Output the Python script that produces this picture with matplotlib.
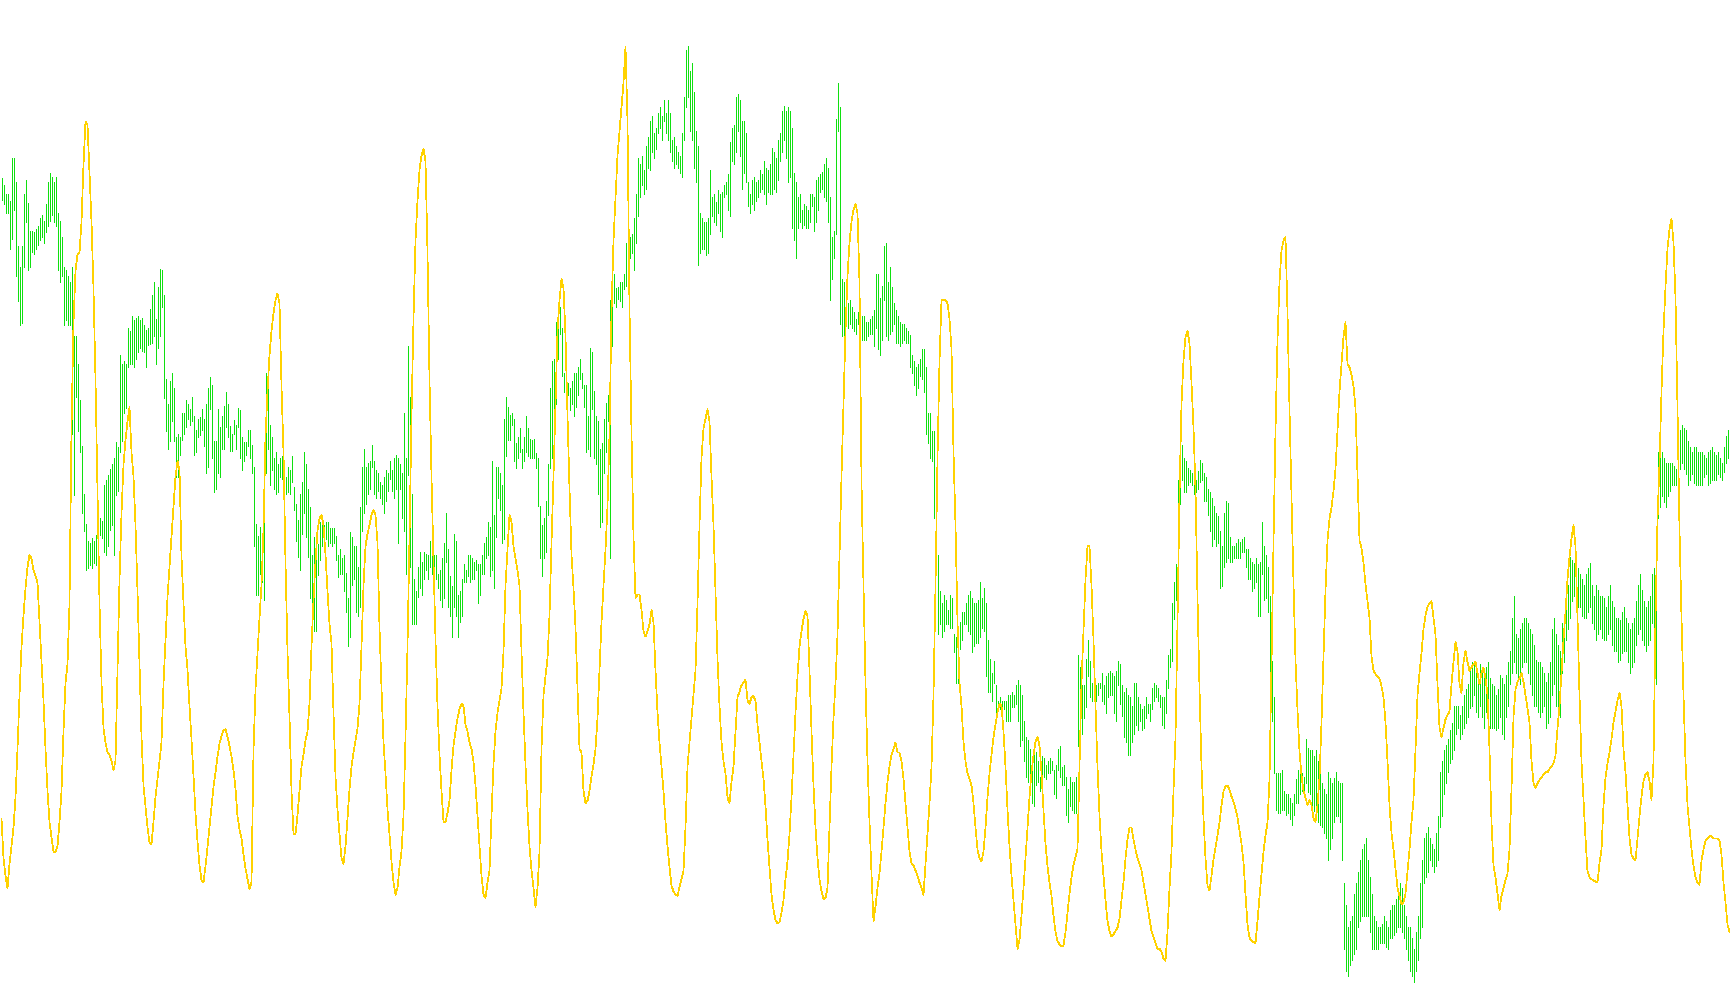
import numpy as np
import matplotlib
matplotlib.use("Agg")
import matplotlib.pyplot as plt

# Price bars (screen level, 0 = top): upper and lower end of each bar
bar_top = [
    161, 168, 176, 176, 182, 143, 143, 165, 223, 242,
    223, 176, 163, 184, 209, 209, 210, 208, 205, 198,
    195, 200, 185, 165, 157, 160, 165, 160, 193, 200,
    215, 242, 245, 250, 256, 242, 305, 305, 330, 363,
    404, 448, 475, 490, 492, 488, 490, 485, 478, 470,
    472, 440, 435, 431, 425, 421, 415, 401, 405, 322,
    330, 327, 330, 297, 300, 286, 290, 288, 286, 290,
    288, 295, 299, 297, 280, 267, 256, 289, 260, 244,
    245, 267, 344, 366, 345, 338, 352, 396, 393, 396,
    374, 374, 363, 366, 371, 360, 377, 390, 380, 378,
    371, 380, 366, 352, 342, 349, 400, 400, 371, 387,
    377, 368, 355, 366, 386, 393, 381, 385, 370, 372,
    396, 401, 401, 390, 390, 403, 423, 475, 486, 478,
    486, 459, 338, 335, 385, 396, 415, 410, 421, 415,
    413, 427, 432, 423, 426, 413, 441, 457, 471, 448,
    437, 410, 421, 443, 460, 503, 487, 490, 493, 473,
    476, 476, 473, 473, 479, 479, 479, 486, 503, 498,
    506, 503, 519, 542, 482, 487, 495, 495, 514, 460,
    423, 407, 423, 420, 418, 403, 418, 426, 429, 437,
    440, 432, 426, 429, 418, 426, 415, 412, 415, 421,
    429, 374, 415, 314, 360, 448, 525, 536, 514, 500,
    509, 500, 502, 503, 490, 498, 503, 503, 520, 517,
    506, 492, 465, 498, 522, 531, 484, 490, 539, 536,
    525, 511, 517, 503, 503, 506, 509, 508, 511, 511,
    503, 492, 487, 473, 478, 418, 467, 423, 423, 429,
    440, 380, 360, 369, 376, 374, 380, 402, 396, 388,
    407, 396, 377, 388, 398, 399, 398, 411, 415, 459,
    476, 470, 454, 421, 352, 327, 325, 292, 294, 278,
    297, 338, 344, 347, 352, 345, 338, 338, 333, 325,
    338, 349, 349, 377, 315, 319, 354, 377, 382, 407,
    402, 380, 365, 358, 272, 248, 248, 261, 260, 256,
    256, 248, 220, 212, 215, 212, 198, 176, 143, 149,
    141, 154, 132, 124, 110, 105, 121, 116, 102, 97,
    105, 91, 102, 91, 102, 127, 124, 132, 138, 141,
    121, 88, 45, 42, 64, 57, 83, 119, 132, 193,
    198, 201, 201, 198, 154, 179, 176, 183, 172, 176,
    174, 168, 165, 158, 129, 116, 113, 88, 85, 91,
    110, 110, 121, 165, 176, 163, 160, 165, 163, 154,
    158, 146, 152, 154, 149, 134, 138, 143, 127, 121,
    101, 96, 101, 97, 101, 116, 157, 165, 179, 176,
    190, 185, 187, 190, 176, 176, 179, 163, 160, 158,
    156, 149, 143, 152, 179, 215, 209, 108, 75, 97,
    253, 256, 272, 275, 272, 278, 283, 289, 283, 286,
    286, 286, 292, 292, 289, 286, 281, 248, 248, 270,
    259, 223, 220, 256, 242, 260, 275, 281, 286, 292,
    294, 294, 297, 300, 304, 322, 327, 333, 330, 325,
    316, 316, 333, 374, 374, 391, 391, 459, 503, 536,
    547, 539, 544, 553, 539, 542, 575, 577, 588, 564,
    555, 555, 547, 539, 536, 542, 547, 547, 544, 528,
    542, 533, 547, 580, 597, 610, 599, 621, 635, 632,
    635, 635, 635, 630, 630, 627, 630, 621, 616, 621,
    630, 654, 668, 671, 679, 695, 682, 682, 690, 704,
    685, 687, 693, 690, 687, 690, 698, 693, 679, 676,
    695, 693, 704, 715, 704, 709, 709, 704, 594, 605,
    621, 621, 597, 580, 599, 619, 619, 621, 619, 619,
    610, 621, 613, 610, 608, 610, 613, 608, 599, 602,
    621, 627, 624, 630, 632, 640, 619, 619, 632, 638,
    643, 640, 632, 638, 638, 624, 619, 621, 624, 630,
    632, 632, 616, 594, 588, 547, 528, 511, 435, 435,
    403, 415, 418, 424, 426, 429, 438, 435, 427, 417,
    420, 429, 432, 443, 446, 451, 459, 465, 468, 481,
    495, 465, 454, 456, 487, 495, 495, 492, 489, 491,
    489, 487, 498, 498, 506, 509, 511, 506, 511, 509,
    473, 495, 503, 514, 540, 599, 632, 701, 701, 701,
    698, 717, 720, 720, 723, 728, 720, 706, 698, 690,
    701, 704, 670, 678, 680, 680, 685, 680, 690, 700,
    710, 715, 720, 700, 705, 710, 705, 700, 708, 710,
    710, 800, 820, 840, 835, 830, 810, 800, 790, 780,
    770, 765, 760, 780, 795, 810, 830, 835, 840, 840,
    838, 830, 835, 840, 825, 820, 820, 815, 810, 800,
    805, 820, 830, 840, 840, 850, 860, 845, 830, 800,
    780, 760, 755, 750, 760, 765, 770, 755, 740, 700,
    690, 680, 675, 670, 662, 655, 640, 640, 640, 648,
    640, 630, 625, 620, 605, 600, 600, 605, 610, 602,
    605, 610, 605, 600, 615, 620, 622, 630, 625, 612,
    615, 620, 612, 600, 590, 560, 540, 575, 578, 570,
    565, 560, 560, 565, 570, 575, 585, 598, 600, 600,
    605, 610, 618, 610, 600, 570, 560, 575, 585, 590,
    565, 560, 550, 530, 505, 508, 510, 510, 515, 520,
    525, 530, 520, 515, 510, 530, 540, 530, 535, 540,
    540, 542, 550, 540, 530, 545, 550, 560, 560, 562,
    555, 550, 560, 565, 570, 565, 560, 545, 530, 520,
    535, 545, 550, 545, 540, 520, 515, 510, 410, 410,
    410, 415, 420, 420, 420, 420, 422, 425, 400, 390,
    385, 388, 390, 400, 405, 410, 405, 405, 410, 410,
    410, 412, 415, 410, 408, 405, 410, 412, 410, 415,
    420, 405, 395, 390, 392,
]

bar_bot = [
    181, 185, 193, 193, 226, 217, 190, 250, 273, 295,
    293, 242, 201, 245, 242, 228, 230, 226, 222, 218,
    215, 220, 210, 205, 200, 195, 201, 205, 245, 256,
    250, 295, 290, 295, 295, 393, 449, 360, 391, 410,
    465, 481, 517, 515, 512, 515, 510, 512, 505, 485,
    488, 500, 503, 495, 480, 476, 503, 449, 445, 410,
    400, 374, 370, 333, 330, 330, 333, 325, 319, 315,
    318, 319, 333, 313, 312, 311, 305, 330, 315, 305,
    278, 361, 391, 407, 400, 382, 400, 432, 432, 412,
    399, 393, 387, 380, 385, 382, 412, 410, 396, 394,
    390, 404, 429, 423, 371, 415, 446, 443, 429, 432,
    407, 407, 387, 396, 409, 409, 393, 407, 387, 415,
    426, 418, 412, 404, 415, 429, 495, 539, 539, 520,
    528, 544, 429, 407, 440, 426, 443, 448, 446, 432,
    434, 440, 448, 446, 448, 437, 462, 490, 505, 517,
    484, 465, 487, 505, 542, 561, 572, 572, 521, 508,
    495, 492, 489, 495, 492, 495, 492, 508, 523, 520,
    520, 536, 555, 586, 577, 530, 525, 555, 558, 550,
    481, 465, 457, 448, 443, 423, 448, 451, 445, 451,
    457, 465, 454, 445, 434, 445, 451, 443, 492, 443,
    470, 481, 520, 431, 514, 566, 566, 566, 541, 533,
    539, 525, 517, 525, 514, 520, 523, 525, 533, 544,
    550, 542, 509, 550, 558, 577, 550, 558, 577, 564,
    558, 528, 528, 522, 528, 525, 525, 517, 547, 539,
    520, 520, 506, 503, 522, 517, 533, 487, 451, 462,
    492, 489, 413, 399, 399, 385, 418, 424, 415, 410,
    424, 418, 410, 413, 415, 415, 415, 424, 459, 506,
    522, 506, 500, 467, 424, 415, 399, 366, 325, 303,
    341, 355, 366, 358, 372, 366, 377, 369, 358, 344,
    352, 369, 410, 407, 413, 371, 415, 421, 448, 478,
    473, 429, 410, 382, 506, 314, 275, 278, 271, 273,
    278, 262, 259, 234, 234, 229, 245, 220, 196, 179,
    168, 176, 171, 152, 154, 138, 143, 135, 121, 116,
    127, 110, 121, 127, 138, 146, 152, 149, 152, 157,
    160, 127, 97, 88, 119, 127, 152, 165, 240, 229,
    226, 226, 231, 229, 212, 196, 201, 204, 193, 209,
    215, 179, 176, 190, 196, 146, 149, 138, 119, 141,
    171, 157, 165, 187, 193, 185, 190, 182, 179, 174,
    171, 176, 185, 174, 176, 176, 171, 174, 163, 146,
    138, 127, 143, 165, 160, 207, 218, 234, 207, 201,
    207, 204, 207, 207, 201, 187, 209, 201, 190, 174,
    171, 179, 182, 201, 272, 253, 234, 212, 119, 294,
    305, 308, 294, 297, 294, 297, 300, 303, 294, 300,
    308, 308, 308, 305, 303, 303, 314, 297, 316, 322,
    308, 272, 305, 308, 303, 300, 294, 311, 311, 314,
    311, 308, 311, 311, 333, 338, 349, 358, 352, 341,
    344, 355, 393, 402, 415, 418, 470, 500, 575, 566,
    577, 572, 566, 566, 569, 569, 591, 619, 619, 588,
    580, 566, 566, 572, 575, 591, 586, 583, 583, 577,
    569, 572, 613, 627, 627, 635, 619, 646, 643, 643,
    646, 643, 654, 654, 654, 641, 641, 638, 654, 676,
    671, 690, 704, 709, 720, 728, 731, 712, 709, 717,
    706, 704, 706, 701, 701, 698, 720, 723, 698, 704,
    712, 712, 739, 745, 731, 734, 737, 737, 676, 660,
    665, 651, 641, 613, 632, 635, 632, 635, 630, 624,
    635, 638, 646, 632, 630, 630, 646, 654, 621, 638,
    649, 668, 673, 684, 684, 673, 665, 657, 662, 654,
    662, 660, 651, 646, 654, 643, 635, 632, 635, 641,
    657, 660, 646, 624, 605, 599, 561, 544, 478, 457,
    435, 446, 446, 440, 437, 440, 448, 446, 443, 437,
    435, 454, 454, 467, 481, 495, 489, 495, 492, 533,
    531, 514, 509, 506, 509, 509, 506, 506, 506, 506,
    500, 500, 514, 525, 525, 536, 533, 528, 558, 558,
    520, 544, 542, 555, 624, 654, 701, 734, 737, 737,
    734, 734, 739, 737, 742, 748, 739, 728, 728, 720,
    717, 720, 710, 718, 720, 740, 735, 730, 745, 748,
    750, 755, 760, 780, 770, 760, 745, 740, 740, 745,
    780, 860, 880, 885, 875, 870, 865, 860, 840, 835,
    830, 830, 830, 830, 845, 860, 860, 860, 860, 855,
    855, 855, 858, 860, 850, 850, 848, 845, 840, 840,
    845, 850, 860, 870, 880, 885, 890, 880, 870, 850,
    840, 800, 795, 790, 780, 785, 790, 785, 780, 750,
    740, 720, 710, 700, 692, 688, 680, 665, 660, 670,
    665, 660, 655, 650, 642, 640, 630, 645, 650, 640,
    650, 660, 645, 640, 660, 660, 660, 662, 660, 650,
    665, 670, 650, 640, 620, 610, 600, 610, 615, 620,
    605, 600, 600, 610, 620, 630, 640, 640, 645, 650,
    645, 640, 660, 655, 650, 630, 620, 640, 645, 650,
    610, 600, 580, 570, 560, 545, 540, 550, 550, 550,
    558, 560, 560, 555, 550, 565, 570, 580, 575, 570,
    578, 580, 580, 575, 570, 585, 590, 590, 600, 598,
    592, 590, 590, 600, 610, 605, 600, 585, 575, 570,
    580, 585, 590, 585, 580, 565, 570, 620, 470, 460,
    450, 455, 460, 450, 445, 440, 440, 440, 430, 425,
    420, 425, 430, 440, 435, 430, 438, 440, 440, 440,
    440, 432, 430, 440, 438, 435, 435, 435, 430, 432,
    435, 428, 420, 415, 412,
]

# Oscillator line (same screen level units), one value per bar
osc = [
    742, 778, 794, 805, 783, 767, 750, 723, 679, 630,
    586, 558, 533, 514, 503, 506, 517, 522, 528, 564,
    602, 635, 679, 717, 745, 759, 772, 772, 767, 745,
    717, 663, 619, 602, 547, 388, 292, 245, 231, 229,
    201, 149, 110, 113, 157, 201, 262, 344, 448, 547,
    619, 660, 673, 682, 684, 690, 698, 690, 608, 525,
    465, 421, 399, 382, 369, 410, 432, 476, 536, 602,
    668, 712, 731, 750, 764, 765, 745, 722, 706, 690,
    673, 620, 580, 541, 514, 487, 459, 432, 418, 426,
    505, 547, 586, 607, 640, 670, 704, 737, 763, 784,
    798, 800, 785, 768, 750, 733, 713, 700, 686, 674,
    667, 662, 661, 668, 676, 686, 698, 715, 740, 752,
    760, 775, 787, 797, 806, 800, 680, 625, 592, 560,
    530, 480, 395, 355, 322, 300, 284, 272, 266, 275,
    350, 410, 510, 590, 650, 717, 756, 756, 739, 717,
    695, 684, 671, 663, 638, 586, 544, 509, 481, 470,
    467, 476, 503, 536, 566, 583, 646, 704, 734, 756,
    778, 783, 767, 742, 715, 695, 682, 671, 660, 638,
    586, 531, 495, 484, 476, 467, 462, 467, 492, 569,
    624, 673, 701, 734, 756, 781, 800, 811, 805, 786,
    772, 739, 668, 586, 487, 377, 289, 218, 182, 154,
    141, 135, 146, 229, 344, 432, 509, 580, 640, 684,
    717, 745, 745, 737, 726, 698, 676, 663, 651, 643,
    638, 640, 657, 663, 673, 679, 690, 712, 739, 767,
    794, 811, 814, 800, 789, 739, 693, 663, 646, 635,
    624, 591, 531, 498, 467, 473, 495, 506, 517, 531,
    591, 646, 693, 734, 767, 789, 805, 822, 805, 772,
    679, 630, 613, 597, 558, 492, 432, 366, 300, 272,
    253, 261, 305, 377, 443, 503, 533, 569, 624, 679,
    682, 717, 728, 726, 717, 704, 693, 679, 651, 608,
    564, 531, 498, 459, 393, 283, 218, 179, 141, 119,
    97, 75, 42, 110, 280, 393, 487, 542, 539, 539,
    553, 572, 577, 572, 566, 553, 564, 608, 646, 673,
    695, 717, 745, 767, 786, 803, 808, 811, 812, 804,
    797, 789, 750, 695, 673, 651, 630, 608, 547, 476,
    415, 388, 380, 371, 382, 432, 476, 536, 597, 640,
    673, 690, 701, 723, 728, 709, 695, 663, 632, 627,
    621, 619, 616, 635, 638, 632, 631, 635, 657, 673,
    690, 706, 731, 761, 786, 811, 825, 834, 837, 836,
    827, 816, 797, 781, 756, 723, 684, 646, 613, 586,
    572, 561, 554, 558, 608, 663, 712, 750, 778, 797,
    808, 815, 814, 805, 750, 695, 651, 619, 575, 503,
    432, 366, 300, 250, 220, 201, 190, 185, 193, 256,
    437, 531, 619, 690, 745, 792, 835, 822, 805, 792,
    772, 750, 728, 709, 695, 684, 679, 673, 682, 682,
    690, 706, 728, 750, 772, 783, 784, 789, 794, 800,
    805, 811, 783, 756, 728, 695, 630, 531, 415, 327,
    272, 272, 272, 275, 289, 316, 410, 476, 564, 619,
    640, 673, 690, 701, 706, 712, 728, 750, 770, 778,
    781, 772, 750, 723, 701, 684, 668, 657, 646, 638,
    640, 663, 695, 734, 767, 794, 816, 838, 860, 852,
    830, 805, 778, 750, 723, 700, 685, 672, 668, 676,
    700, 735, 765, 785, 800, 812, 830, 845, 853, 856,
    858, 857, 845, 827, 810, 795, 784, 777, 770, 695,
    619, 572, 525, 495, 495, 531, 580, 640, 695, 739,
    772, 794, 816, 835, 844, 849, 847, 844, 841, 833,
    816, 800, 778, 761, 750, 750, 761, 770, 778, 783,
    789, 800, 811, 822, 833, 844, 849, 855, 860, 860,
    863, 869, 871, 845, 805, 772, 717, 668, 564, 448,
    366, 327, 305, 300, 311, 347, 388, 443, 542, 624,
    695, 742, 778, 803, 807, 794, 779, 768, 757, 746,
    730, 717, 713, 712, 716, 722, 727, 733, 741, 753,
    765, 781, 811, 838, 850, 853, 854, 855, 835, 813,
    793, 772, 757, 746, 706, 602, 492, 390, 308, 256,
    227, 218, 215, 283, 371, 451, 529, 599, 644, 681,
    703, 717, 723, 730, 725, 730, 742, 745, 730, 705,
    655, 595, 535, 490, 470, 460, 445, 425, 390, 355,
    330, 305, 292, 330, 333, 340, 350, 370, 430, 490,
    497, 510, 530, 545, 560, 595, 608, 611, 613, 615,
    622, 632, 655, 690, 730, 755, 770, 788, 805, 812,
    820, 818, 810, 790, 770, 745, 725, 680, 630, 610,
    592, 570, 558, 550, 547, 545, 560, 575, 620, 660,
    668, 660, 652, 648, 645, 620, 600, 582, 590, 620,
    628, 600, 590, 600, 608, 605, 602, 600, 610, 620,
    610, 605, 615, 630, 680, 745, 785, 795, 810, 825,
    812, 805, 798, 792, 770, 715, 650, 625, 618, 615,
    610, 618, 630, 642, 655, 690, 710, 714, 710, 707,
    705, 702, 700, 700, 697, 695, 692, 685, 660, 640,
    610, 580, 555, 525, 505, 488, 476, 495, 560, 630,
    690, 725, 760, 790, 795, 797, 798, 799, 800, 782,
    770, 730, 705, 692, 682, 670, 655, 645, 635, 628,
    640, 680, 700, 730, 760, 775, 778, 780, 760, 740,
    722, 708, 702, 700, 708, 725, 690, 560, 470, 420,
    355, 300, 260, 225, 208, 198, 220, 270, 370, 480,
    560, 630, 690, 730, 750, 770, 785, 795, 800, 802,
    780, 770, 762, 760, 758, 758, 760, 760, 760, 762,
    775, 800, 818, 838, 845,
]

W, H = 1730, 1005
fig = plt.figure(figsize=(W / 100, H / 100), dpi=100, facecolor="white")
ax = fig.add_axes([0, 0, 1, 1])
ax.set_facecolor("white")

n = len(bar_top)
x = np.arange(n)
ax.vlines(x, bar_top, bar_bot, colors="#10E010", linewidth=0.5,
          antialiased=False, zorder=2)

xo = np.arange(len(osc))
ax.plot(xo, osc, color="#FFD200", linewidth=0.5, antialiased=False, zorder=3)

ax.set_xlim(-0.75, 864.25)
ax.set_ylim(911, 0)
ax.axis("off")

fig.savefig("out.png", dpi=100, facecolor="white")
